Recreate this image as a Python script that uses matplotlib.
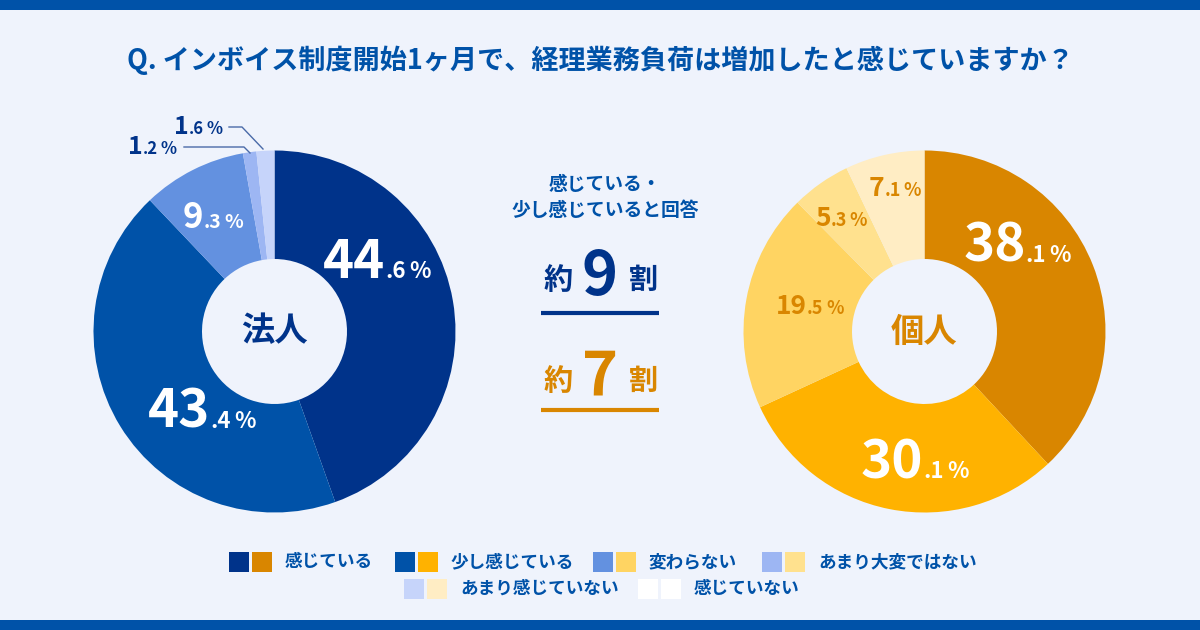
import matplotlib
matplotlib.use('Agg')
import matplotlib.pyplot as plt
from matplotlib.offsetbox import TextArea, HPacker, AnnotationBbox
from matplotlib.patches import Rectangle

plt.rcParams['font.family'] = ['Noto Sans CJK JP', 'DejaVu Sans']
plt.rcParams['font.weight'] = 'bold'

# data
title = 'Q. インボイス制度開始1ヶ月で、経理業務負荷は増加したと感じていますか？'
categories = ['感じている', '少し感じている', '変わらない', 'あまり大変ではない',
              'あまり感じていない', '感じていない']
corp_values = [44.6, 43.4, 9.3, 1.2, 1.6]
indiv_values = [38.1, 30.1, 19.5, 5.3, 7.1]
corp_colors = ['#00338a', '#0052a8', '#6391e0', '#9db6f3', '#c6d4fa', '#ffffff']
indiv_colors = ['#d98600', '#ffb200', '#ffd462', '#ffe18e', '#ffedc4', '#ffffff']

BG = '#eff3fc'
NAVY = '#00338a'
BLUE = '#0052a8'
ORANGE = '#d98600'

W, H = 1200, 630
fig = plt.figure(figsize=(12, 6.3), dpi=100, facecolor=BG)
ax = fig.add_axes([0, 0, 1, 1])
ax.set_facecolor(BG)


def Y(y):
    # pixel row from top -> data y
    return H - y


def pct_label(x, y, val, big, small, color):
    whole, dec = ('%.1f' % val).split('.')
    num = HPacker(children=[
        TextArea(whole, textprops=dict(size=big, color=color, weight='bold')),
        TextArea('.' + dec, textprops=dict(size=small, color=color, weight='bold'))],
        align='baseline', pad=0, sep=0)
    pct = TextArea('%', textprops=dict(size=small, color=color, weight='bold'))
    box = HPacker(children=[num, pct], align='baseline', pad=0, sep=small * 0.15)
    ab = AnnotationBbox(box, (x, Y(y)), frameon=False, box_alignment=(0.5, 0.5), pad=0)
    ax.add_artist(ab)


# pies
R, HOLE = 181, 72.5
ax.pie(corp_values, colors=corp_colors, center=(274.5, Y(331.5)), radius=R,
       startangle=90, counterclock=False,
       wedgeprops=dict(width=R - HOLE, edgecolor='none'))
ax.pie(indiv_values, colors=indiv_colors, center=(924.5, Y(331.5)), radius=R,
       startangle=90, counterclock=False,
       wedgeprops=dict(width=R - HOLE, edgecolor='none'))

ax.set_xlim(0, W)
ax.set_ylim(0, H)
ax.set_aspect('equal')
ax.axis('off')

# top / bottom bars
ax.add_patch(Rectangle((0, Y(10)), W, 10, color=BLUE, lw=0))
ax.add_patch(Rectangle((0, 0), W, 10, color=BLUE, lw=0))

ax.text(600, Y(60), title, ha='center', va='center', fontsize=19.5, color=BLUE)

# center labels
ax.text(274.5, Y(332), '法人', ha='center', va='center', fontsize=24, color=NAVY)
ax.text(924.5, Y(332), '個人', ha='center', va='center', fontsize=24, color=ORANGE)

# corp labels
pct_label(377, 263, corp_values[0], 38, 16, 'white')
pct_label(202, 412, corp_values[1], 38, 16, 'white')
pct_label(213, 218, corp_values[2], 25, 14, 'white')
pct_label(152, 147, corp_values[3], 18, 12, NAVY)
pct_label(198, 127, corp_values[4], 18, 12, NAVY)
ax.plot([184, 244, 250], [Y(147), Y(147), Y(153)], color='#4a6aa8', lw=1)
ax.plot([229, 242, 263], [Y(127), Y(127), Y(149)], color='#4a6aa8', lw=1)

# indiv labels
pct_label(1017, 246, indiv_values[0], 38, 16, 'white')
pct_label(915, 463, indiv_values[1], 38, 16, 'white')
pct_label(810, 307, indiv_values[2], 19, 13, ORANGE)
pct_label(841, 218, indiv_values[3], 19, 13, ORANGE)
pct_label(895, 189, indiv_values[4], 19, 13, ORANGE)

# middle summary
ax.text(605, Y(185), '感じている・', ha='center', va='center', fontsize=13.5, color=BLUE)
ax.text(605, Y(211), '少し感じていると回答', ha='center', va='center', fontsize=13.5, color=BLUE)
for yc, num, col, yl in [(280, '9', NAVY, 313), (381, '7', ORANGE, 410)]:
    ax.text(558, Y(yc), '約', ha='center', va='center', fontsize=21, color=col)
    ax.text(600, Y(yc - 3), num, ha='center', va='center', fontsize=44, color=col)
    ax.text(643, Y(yc), '割', ha='center', va='center', fontsize=21, color=col)
    ax.plot([541, 659], [Y(yl), Y(yl)], color=col, lw=3, solid_capstyle='butt')

# legend
legend_pos = [(229, 562), (395, 562), (593, 562), (762, 562), (404, 589), (638, 589)]
for i, cat in enumerate(categories):
    x, y = legend_pos[i]
    ax.add_patch(Rectangle((x, Y(y + 10)), 20, 20, color=corp_colors[i], lw=0))
    ax.add_patch(Rectangle((x + 23, Y(y + 10)), 20, 20, color=indiv_colors[i], lw=0))
    ax.text(x + 56, Y(y), cat, ha='left', va='center', fontsize=12.7, color=BLUE)

fig.savefig('out.png', dpi=100, facecolor=BG)
